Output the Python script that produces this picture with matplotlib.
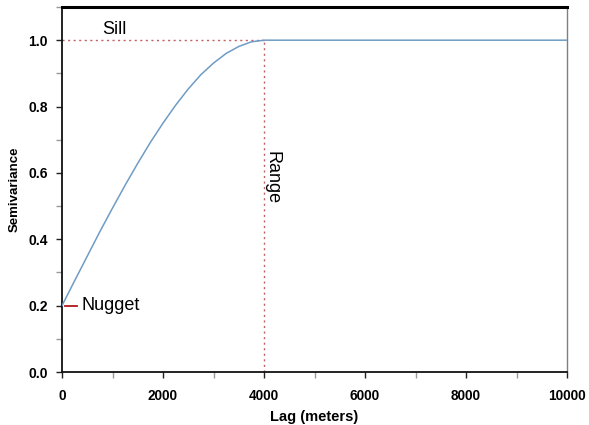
import matplotlib
matplotlib.use("Agg")
import matplotlib.pyplot as plt
from matplotlib.ticker import MultipleLocator

plt.rcParams['font.family'] = ['Liberation Sans', 'DejaVu Sans']

# Data (fitted semivariogram curve)
lag = [0, 250, 500, 750, 1000, 1250, 1500, 1750, 2000, 2250, 2500, 2750,
       3000, 3250, 3500, 3750, 4000, 10000]
semivariance = [0.200, 0.275, 0.349, 0.423, 0.494, 0.563, 0.629, 0.692, 0.750,
                0.804, 0.853, 0.896, 0.931, 0.960, 0.981, 0.995, 1.000, 1.000]
nugget = 0.2
sill = 1.0
range_m = 4000
x_ticks = [0, 2000, 4000, 6000, 8000, 10000]
y_ticks = [0.0, 0.2, 0.4, 0.6, 0.8, 1.0]

fig = plt.figure(figsize=(5.89, 4.25), dpi=100)
ax = fig.add_axes([62/589, 1 - 372/425, (567-62)/589, (372-7)/425])

ax.plot(lag, semivariance, color='#6f9cc4', lw=1.1, zorder=3)
ax.plot([0, range_m], [sill, sill], color='#c06060', lw=1.0, ls=(0, (1.5, 2.5)), zorder=2)
ax.plot([range_m, range_m], [0, sill], color='#c06060', lw=1.0, ls=(0, (1.5, 2.5)), zorder=2)
ax.plot([60, 300], [nugget, nugget], color='#b01818', lw=1.3, zorder=2)

ax.text(380, nugget, 'Nugget', fontsize=13, va='center', ha='left')
ax.text(790, sill + 0.006, 'Sill', fontsize=13, va='bottom', ha='left')
ax.text(3985, 0.665, 'Range', fontsize=13, rotation=270, va='top', ha='left')

ax.set_xlim(0, 10000)
ax.set_ylim(0, 1.1)
ax.set_xticks(x_ticks)
ax.set_yticks(y_ticks)
ax.set_xticklabels([str(v) for v in x_ticks], fontweight='bold', fontsize=9.8)
ax.set_yticklabels([f'{v:.1f}' for v in y_ticks], fontweight='bold', fontsize=10)
ax.xaxis.set_minor_locator(MultipleLocator(1000))
ax.yaxis.set_minor_locator(MultipleLocator(0.1))
ax.tick_params(which='both', direction='out', length=4, width=1.0, color='#222222')
ax.tick_params(which='minor', color='#999999')
ax.tick_params(axis='x', pad=8)
ax.tick_params(axis='y', pad=6)

ax.set_xlabel('Lag (meters)', fontweight='bold', fontsize=10.5, labelpad=5)
ax.set_ylabel('Semivariance', fontweight='bold', fontsize=9.5, labelpad=6)

for s in ['left', 'bottom']:
    ax.spines[s].set_linewidth(1.3)
    ax.spines[s].set_color('#111111')
ax.spines['top'].set_linewidth(2.2)
ax.spines['top'].set_color('#000000')
ax.spines['right'].set_linewidth(1.0)
ax.spines['right'].set_color('#808080')

fig.savefig('out.png', dpi=100)
